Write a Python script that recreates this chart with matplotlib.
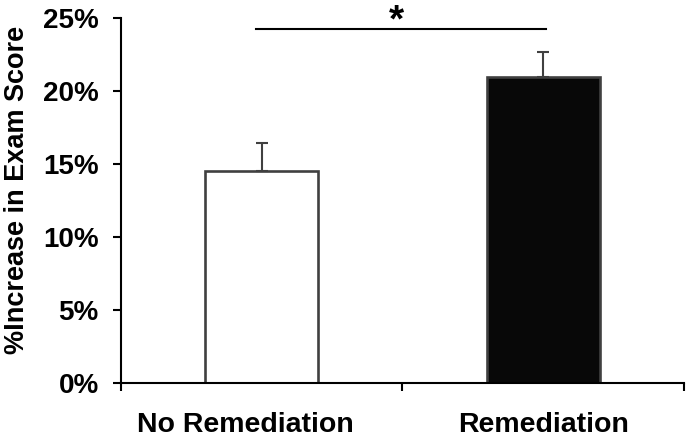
import numpy as np
import matplotlib.pyplot as plt
from matplotlib.transforms import ScaledTranslation

# data
categories = ["No Remediation", "Remediation"]
means = [0.1452, 0.2090]
errors = [0.0193, 0.0175]
ytick_vals = [0.0, 0.05, 0.10, 0.15, 0.20, 0.25]
ytick_labels = ["0%", "5%", "10%", "15%", "20%", "25%"]
sig_y = 0.2418

plt.rcParams['font.family'] = ['Liberation Sans', 'DejaVu Sans']
plt.rcParams['font.weight'] = 'bold'

fig = plt.figure(figsize=(6.87, 4.41), dpi=100)
ax = fig.add_axes([0.176, 0.1315, 0.8196, 0.8288])

x = np.arange(len(categories))
ax.bar(x, means, width=0.4, color=["white", "#080808"], edgecolor="#404040", linewidth=1.9, zorder=2)
ax.errorbar(x, means, yerr=[[0, 0], errors], fmt="none", ecolor="#404040",
            elinewidth=1.5, capsize=4, capthick=1.5, zorder=3)

# significance marker
ax.plot([-0.02, 1.01], [sig_y, sig_y], color="black", linewidth=1.5, clip_on=False)
ax.text(0.48, 0.2405, "*", ha="center", va="baseline", fontsize=28, fontweight="bold", clip_on=False)

ax.set_xlim(-0.5, 1.5)
ax.set_ylim(0, 0.25)
ax.set_yticks(ytick_vals)
ax.set_yticklabels(ytick_labels, fontsize=20, fontweight="bold")
ax.set_xticks([-0.5, 0.5, 1.5])
ax.set_xticklabels([])
ax.set_xticks(x, minor=True)
ax.set_xticklabels(categories, minor=True, fontsize=20.5, fontweight="bold")
ax.tick_params(axis="x", which="minor", length=0, pad=21)
ax.tick_params(axis="x", which="major", length=6, width=1.5, direction="out")
ax.tick_params(axis="y", length=6, width=1.5, direction="out", pad=10)

# first category label sits a bit left of its bar in the original
lbl = ax.get_xticklabels(minor=True)[0]
lbl.set_transform(lbl.get_transform() + ScaledTranslation(-12 / 72, 0, fig.dpi_scale_trans))

for side in ["top", "right"]:
    ax.spines[side].set_visible(False)
for side in ["left", "bottom"]:
    ax.spines[side].set_linewidth(1.5)

ax.set_ylabel("%Increase in Exam Score", fontsize=19.5, fontweight="bold")
ax.yaxis.set_label_coords(-0.162, 0.528)

plt.savefig("out.png", dpi=100)
